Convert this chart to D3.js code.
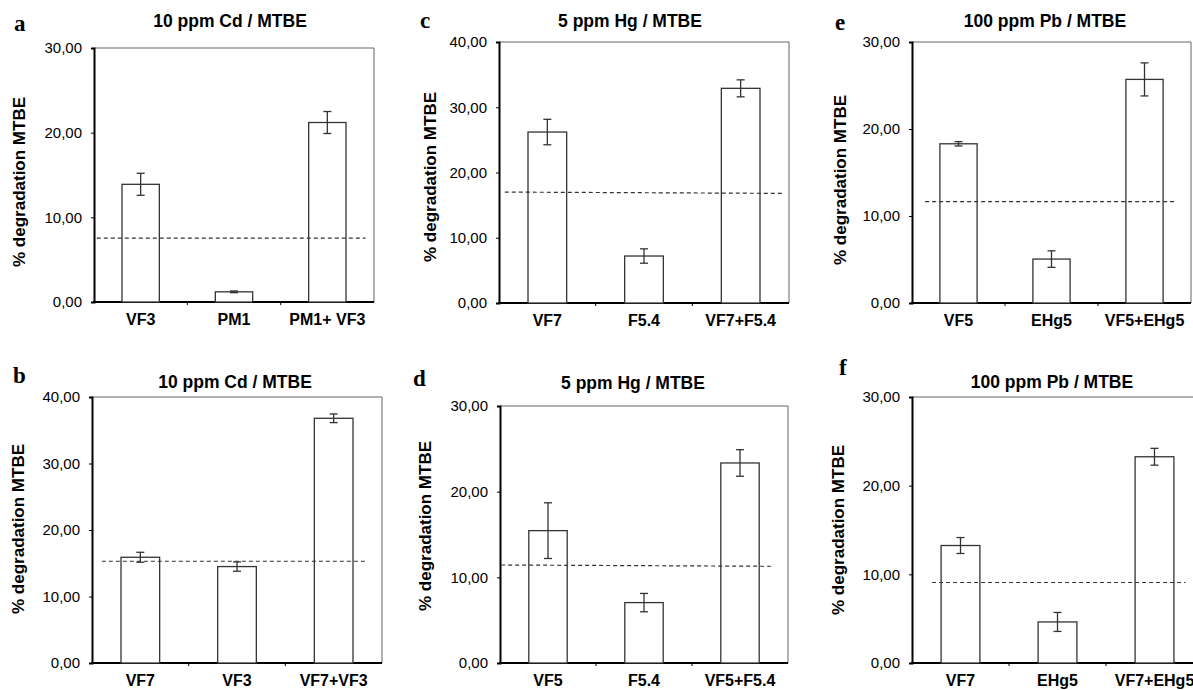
<html>
<head>
<meta charset="utf-8" />
<title>MTBE degradation</title>
<script src="https://d3js.org/d3.v7.min.js"></script>
<style>
  body { margin: 0; background: #fff; }
  text { font-family: "Liberation Sans", Arial, sans-serif; fill: #000; }
</style>
</head>
<body>
<svg id="chart"></svg>
<script>
// data
const letters = ["a", "b", "c", "d", "e", "f"];
const titles = ["10 ppm Cd / MTBE", "10 ppm Cd / MTBE", "5 ppm Hg / MTBE", "5 ppm Hg / MTBE", "100 ppm Pb / MTBE", "100 ppm Pb / MTBE"];
const categories = [
  ["VF3", "PM1", "PM1+ VF3"],
  ["VF7", "VF3", "VF7+VF3"],
  ["VF7", "F5.4", "VF7+F5.4"],
  ["VF5", "F5.4", "VF5+F5.4"],
  ["VF5", "EHg5", "VF5+EHg5"],
  ["VF7", "EHg5", "VF7+EHg5"]
];
const means = [
  [13.9, 1.2, 21.2],
  [15.9, 14.5, 36.8],
  [26.2, 7.2, 32.9],
  [15.45, 7.05, 23.35],
  [18.3, 5.05, 25.7],
  [13.25, 4.63, 23.26]
];
const errors = [
  [1.3, 0.1, 1.3],
  [0.75, 0.7, 0.65],
  [1.95, 1.1, 1.3],
  [3.25, 1.07, 1.55],
  [0.25, 0.95, 1.9],
  [0.9, 1.07, 0.95]
];
// dashed reference line (value at left end, value at right end)
const refStart = [7.55, 15.3, 17.0, 11.44, 11.65, 9.08];
const refEnd = [7.55, 15.3, 16.8, 11.29, 11.65, 9.08];
const yMax = [30, 40, 40, 30, 30, 30];

// layout of each panel
const boxes = [
  {x0: 94, x1: 374, y0: 48, y1: 302, tx: 230, ty: 27, lx: 14, ly: 31, ax: 19, ay: 182, d0: 0.01, d1: 0.97},
  {x0: 92, x1: 382, y0: 397, y1: 663, tx: 235, ty: 388, lx: 13, ly: 383, ax: 18, ay: 529, d0: 0.034, d1: 0.95},
  {x0: 499, x1: 789, y0: 42, y1: 303, tx: 630, ty: 27, lx: 420, ly: 28, ax: 430, ay: 177, d0: 0.02, d1: 0.976},
  {x0: 500, x1: 788, y0: 406, y1: 663, tx: 633, ty: 389, lx: 413, ly: 386, ax: 425, ay: 526, d0: 0.004, d1: 0.94},
  {x0: 912, x1: 1191, y0: 42, y1: 303, tx: 1045, ty: 27, lx: 835, ly: 30, ax: 840, ay: 180, d0: 0.047, d1: 0.943},
  {x0: 912, x1: 1203, y0: 397, y1: 663, tx: 1052, ty: 388, lx: 839, ly: 375, ax: 838, ay: 530, d0: 0.069, d1: 0.94}
];

const svg = d3.select("#chart").attr("width", 1193).attr("height", 690);
const fmt = d => d3.format(".2f")(d).replace(".", ",");

letters.forEach(function(letter, i) {
  const b = boxes[i];
  const g = svg.append("g");
  const x = d3.scaleBand().domain(categories[i]).range([b.x0, b.x1]).paddingInner(0.6).paddingOuter(0.3);
  const y = d3.scaleLinear().domain([0, yMax[i]]).range([b.y1, b.y0]);
  const ticks = d3.range(0, yMax[i] + 1, 10);

  // frame: top and right thin grey
  g.append("path")
    .attr("d", `M${b.x0},${b.y0}H${b.x1}V${b.y1}`)
    .attr("fill", "none").attr("stroke", "#666").attr("stroke-width", 1);

  // y axis (lines from d3.axisLeft, labels drawn separately)
  const yAxis = g.append("g").attr("transform", `translate(${b.x0},0)`)
    .call(d3.axisLeft(y).tickValues(ticks).tickSize(3).tickFormat(""));
  yAxis.select(".domain").attr("stroke", "#000").attr("stroke-width", 2);
  yAxis.selectAll(".tick line").attr("stroke", "#000");
  g.selectAll(".ylab").data(ticks).enter().append("text")
    .attr("class", "ylab")
    .attr("x", b.x0 - 12)
    .attr("y", d => y(d))
    .attr("dy", "0.36em")
    .attr("text-anchor", "end")
    .style("font-size", "15px")
    .text(fmt);

  // x axis with small ticks on category boundaries
  const step = x.step();
  const bounds = [1, 2].map(k => b.x0 + k * step);
  g.append("line")
    .attr("x1", b.x0 - 1).attr("x2", b.x1).attr("y1", b.y1).attr("y2", b.y1)
    .attr("stroke", "#000").attr("stroke-width", 2);
  g.selectAll(".xt").data(bounds).enter().append("line")
    .attr("x1", d => d).attr("x2", d => d)
    .attr("y1", b.y1).attr("y2", b.y1 + 3)
    .attr("stroke", "#000").attr("stroke-width", 1);
  g.selectAll(".cat").data(categories[i]).enter().append("text")
    .attr("x", d => x(d) + x.bandwidth() / 2)
    .attr("y", b.y1 + 23)
    .attr("text-anchor", "middle")
    .style("font-size", "16px").style("font-weight", "bold")
    .text(d => d);

  // bars
  g.selectAll(".bar").data(categories[i]).enter().append("rect")
    .attr("x", d => x(d))
    .attr("width", x.bandwidth())
    .attr("y", (d, j) => y(means[i][j]))
    .attr("height", (d, j) => y(0) - y(means[i][j]))
    .attr("fill", "#fff").attr("stroke", "#333").attr("stroke-width", 1.3);

  // error bars
  const eb = g.selectAll(".err").data(categories[i]).enter().append("g");
  eb.append("line")
    .attr("x1", d => x(d) + x.bandwidth() / 2).attr("x2", d => x(d) + x.bandwidth() / 2)
    .attr("y1", (d, j) => y(means[i][j] + errors[i][j]))
    .attr("y2", (d, j) => y(means[i][j] - errors[i][j]));
  [1, -1].forEach(function(s) {
    eb.append("line")
      .attr("x1", d => x(d) + x.bandwidth() / 2 - 4).attr("x2", d => x(d) + x.bandwidth() / 2 + 4)
      .attr("y1", (d, j) => y(means[i][j] + s * errors[i][j]))
      .attr("y2", (d, j) => y(means[i][j] + s * errors[i][j]));
  });
  eb.selectAll("line").attr("stroke", "#333").attr("stroke-width", 1.3);

  // dashed reference line
  const w = b.x1 - b.x0;
  g.append("line")
    .attr("x1", b.x0 + b.d0 * w).attr("x2", b.x0 + b.d1 * w)
    .attr("y1", y(refStart[i])).attr("y2", y(refEnd[i]))
    .attr("stroke", "#333").attr("stroke-width", 1.2).attr("stroke-dasharray", "4,3");

  // titles and labels
  g.append("text").attr("x", b.tx).attr("y", b.ty)
    .attr("text-anchor", "middle")
    .style("font-size", "17.5px").style("font-weight", "bold")
    .text(titles[i]);
  g.append("text").attr("x", b.lx).attr("y", b.ly)
    .style("font-family", "'Liberation Serif', 'Times New Roman', serif")
    .style("font-size", "23px").style("font-weight", "bold")
    .text(letter);
  g.append("text")
    .attr("transform", `translate(${b.ax},${b.ay}) rotate(-90)`)
    .attr("text-anchor", "middle").attr("dy", "0.35em")
    .style("font-size", "17px").style("font-weight", "bold")
    .text("% degradation MTBE");
});
</script>
</body>
</html>
